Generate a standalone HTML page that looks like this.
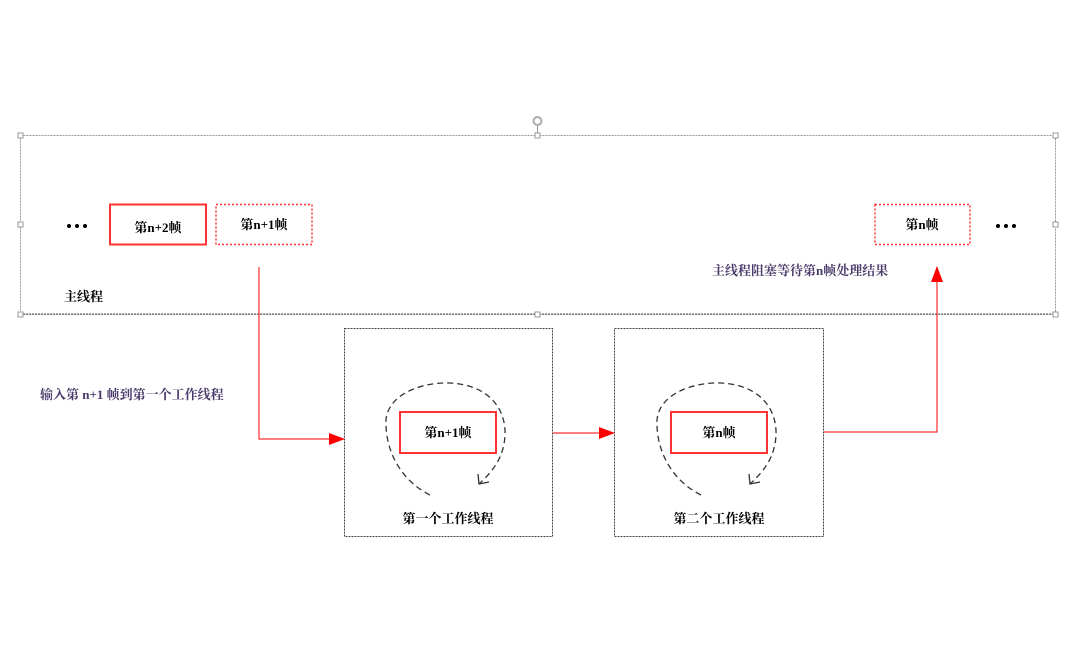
<!DOCTYPE html>
<html><head><meta charset="utf-8"><style>
body{margin:0;background:#fff}
svg text{font-family:"Liberation Serif","Noto Serif CJK SC","Noto Sans CJK SC",serif;font-size:13px;font-weight:bold;fill:#000}
</style></head><body>
<svg width="1080" height="644" viewBox="0 0 1080 644" xmlns="http://www.w3.org/2000/svg">
<defs>
<marker id="ar" markerWidth="16" markerHeight="12" refX="15" refY="6" orient="auto" markerUnits="userSpaceOnUse"><path d="M0,0 L16,6 L0,12z" fill="#f00"/></marker>
</defs>
<rect x="20.5" y="135.5" width="1035" height="179" fill="none" stroke="#999" stroke-dasharray="2,1"/>
<line x1="20" y1="314" x2="1056" y2="314" stroke="#555" stroke-dasharray="2,1"/>
<g fill="#fff" stroke="#999">
<rect x="18" y="133" width="5" height="5"/><rect x="535" y="133" width="5" height="5"/><rect x="1053" y="133" width="5" height="5"/>
<rect x="18" y="222" width="5" height="5"/><rect x="1053" y="222" width="5" height="5"/>
<rect x="18" y="312" width="5" height="5"/><rect x="535" y="312" width="5" height="5"/><rect x="1053" y="312" width="5" height="5"/>
</g>
<line x1="537.5" y1="125" x2="537.5" y2="133" stroke="#999"/>
<circle cx="537.5" cy="121" r="4" fill="none" stroke="#aaa" stroke-width="2"/>
<g fill="#000">
<circle cx="69" cy="226" r="2"/><circle cx="77" cy="226" r="2"/><circle cx="85" cy="226" r="2"/>
<circle cx="998" cy="226" r="2"/><circle cx="1006" cy="226" r="2"/><circle cx="1014" cy="226" r="2"/>
</g>
<rect x="110" y="204.5" width="96" height="40" fill="none" stroke="#f33" stroke-width="2"/>
<text x="158" y="232" text-anchor="middle">第n+2帧</text>
<rect x="216" y="204.5" width="96" height="40" fill="none" stroke="#f33" stroke-width="1.5" stroke-dasharray="2,2"/>
<text x="264" y="229" text-anchor="middle">第n+1帧</text>
<rect x="875" y="204.5" width="95" height="40" fill="none" stroke="#f33" stroke-width="1.5" stroke-dasharray="2,2"/>
<text x="922" y="229" text-anchor="middle">第n帧</text>
<text x="64" y="301">主线程</text>
<text x="712" y="275" style="fill:#4a3a6a">主线程阻塞等待第n帧处理结果</text>
<text x="40" y="399" style="fill:#4a3a6a">输入第 n+1 帧到第一个工作线程</text>
<rect x="344.5" y="328.5" width="208" height="208" fill="none" stroke="#444" stroke-dasharray="2,1"/>
<rect x="614.5" y="328.5" width="209" height="208" fill="none" stroke="#444" stroke-dasharray="2,1"/>
<rect x="400" y="412" width="96" height="41" fill="none" stroke="#f33" stroke-width="2"/>
<text x="448" y="437" text-anchor="middle">第n+1帧</text>
<rect x="671" y="412" width="96" height="41" fill="none" stroke="#f33" stroke-width="2"/>
<text x="719" y="437" text-anchor="middle">第n帧</text>
<text x="448" y="523" text-anchor="middle">第一个工作线程</text>
<text x="719" y="523" text-anchor="middle">第二个工作线程</text>
<g fill="none" stroke="#333" stroke-width="1.3" stroke-dasharray="6,4">
<path d="M430,495 C400,480 385,450 386,420 C388,395 420,382 450,383 C490,385 506,410 505,435 C504,458 492,472 479,484"/>
<path d="M701,495 C671,480 656,450 657,420 C659,395 691,382 721,383 C761,385 777,410 776,435 C775,458 763,472 750,484"/>
</g>
<g fill="none" stroke="#333" stroke-width="1.3">
<path d="M478,474 L479,484 L489,482"/><path d="M749,474 L750,484 L760,482"/>
</g>
<g fill="none" stroke="#f00" stroke-width="1">
<path d="M259,267 V439 H344" marker-end="url(#ar)"/>
<path d="M553,433 H614" marker-end="url(#ar)"/>
<path d="M824,432 H937 V267" marker-end="url(#ar)"/>
</g>
</svg>
</body></html>
